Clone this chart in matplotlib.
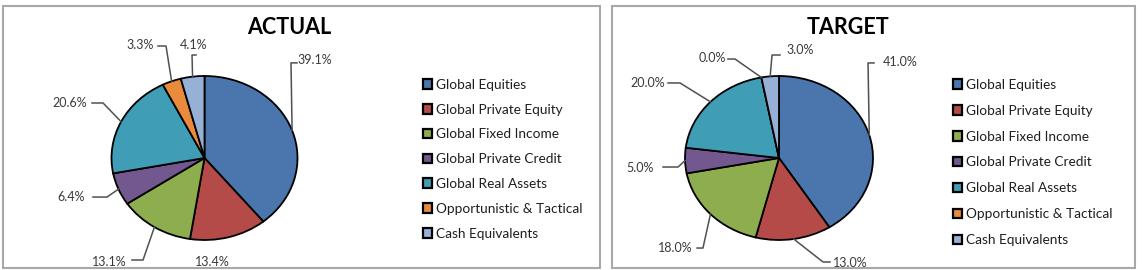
import numpy as np
import matplotlib.pyplot as plt
from matplotlib.patches import Rectangle

# data
categories = ['Global Equities', 'Global Private Equity', 'Global Fixed Income',
              'Global Private Credit', 'Global Real Assets',
              'Opportunistic & Tactical', 'Cash Equivalents']
actual = [39.1, 13.4, 13.1, 6.4, 20.6, 3.3, 4.1]
target = [41.0, 13.0, 18.0, 5.0, 20.0, 0.0, 3.0]
colors = ['#4A76AD', '#B54B48', '#8EAD4F', '#72588F', '#3F9EB6', '#E98A3C', '#97B0D6']

# label layout in pie units: text x, text y, leader y, leader start x, elbow x (None = no leader)
actual_lbl = [(1.19, 1.20, 1.16, 0.995, 0.93),
              (0.08, -1.27, None, None, None),
              (-1.02, -1.27, -1.244, -0.78, -0.661),
              (-1.43, -0.476, -0.476, -1.199, -1.048),
              (-1.45, 0.671, 0.671, -1.21, -1.091),
              (-0.694, 1.378, 1.366, -0.50, -0.414),
              (-0.113, 1.378, 1.256, -0.091, -0.134)]
target_lbl = [(1.29, 1.171, 1.159, 1.011, 0.947),
              (0.755, -1.28, -1.268, 0.543, 0.468),
              (-1.106, -1.098, -1.098, -0.872, -0.809),
              (-1.479, -0.122, -0.11, -1.234, -1.074),
              (-1.394, 0.915, 0.915, -1.181, -1.053),
              (-0.713, 1.22, 1.207, -0.543, -0.468),
              (0.223, 1.317, 1.256, 0.011, -0.074)]

plt.rcParams['font.family'] = ['Lato', 'DejaVu Sans']
W, H = 1142, 270
fig = plt.figure(figsize=(W / 100, H / 100), dpi=100)

def frect(x0, y0, w, h):
    return [x0 / W, 1 - (y0 + h) / H, w / W, h / H]

# panel borders
for x0, x1 in [(3, 600), (612, 1135)]:
    fig.patches.append(Rectangle((x0 / W, 1 - 268 / H), (x1 - x0) / W, 262 / H,
                                 transform=fig.transFigure, fill=False,
                                 edgecolor='#A8A8A8', lw=1.5))

def draw_pie(vals, lbl, cx, cy, rx, ry, title, tx, leg_x, leg_gap):
    k = 1.6
    ax = fig.add_axes(frect(cx - k * rx, cy - k * ry, 2 * k * rx, 2 * k * ry))
    wedges, _ = ax.pie(vals, colors=colors, startangle=90, counterclock=False,
                       wedgeprops=dict(edgecolor='black', linewidth=1.3))
    ax.set_xlim(-k, k)
    ax.set_ylim(-k, k)
    ax.set_aspect('auto')
    ax.axis('off')
    for w, v, (lx, ly, hy, sx, ex) in zip(wedges, vals, lbl):
        ax.text(lx, ly, f'{v:.1f}%', ha='center', va='center', fontsize=9,
                color='#3A3A3A', clip_on=False)
        if sx is not None:
            mid = np.deg2rad((w.theta1 + w.theta2) / 2)
            ax.plot([sx, ex, np.cos(mid)], [hy, hy, np.sin(mid)], color='#505050',
                    lw=1.1, clip_on=False)
    fig.text(tx / W, 1 - 28 / H, title, ha='center', va='center', fontsize=15.5,
             fontweight='bold', color='black')
    leg = fig.legend(wedges, categories, loc='upper left',
                     bbox_to_anchor=(leg_x / W, 1 - 72 / H), frameon=False,
                     fontsize=9.8, handlelength=0.7, handleheight=0.7,
                     handletextpad=0.3, labelspacing=leg_gap, borderpad=0)
    for t in leg.get_texts():
        t.set_color('#1E1E1E')
    for h in leg.legend_handles:
        h.set_linewidth(1.6)

draw_pie(actual, actual_lbl, 204.5, 158, 93, 82, 'ACTUAL', 289, 416, 0.94)
draw_pie(target, target_lbl, 779, 158, 94, 82, 'TARGET', 848, 946, 1.02)

fig.savefig('out.png', dpi=100)
